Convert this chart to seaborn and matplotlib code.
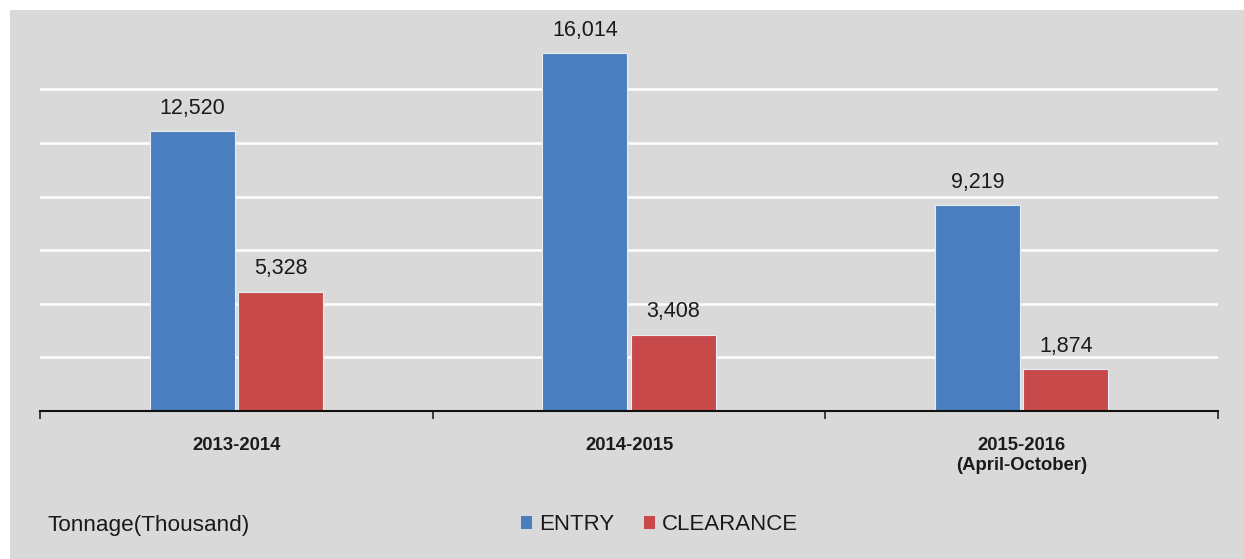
import matplotlib
matplotlib.use("Agg")
import matplotlib.pyplot as plt
from matplotlib.patches import Rectangle
import seaborn as sns
import pandas as pd

# Tonnage handled per period (thousand tonnes)
periods = ["2013-2014", "2014-2015", "2015-2016\n(April-October)"]
entry = [12520, 16014, 9219]
clearance = [5328, 3408, 1874]
series_names = ["ENTRY", "CLEARANCE"]
series_colors = ["#4a7ebf", "#c8494a"]
unit_label = "Tonnage(Thousand)"

df = pd.DataFrame({
    "Period": periods * 2,
    "Tonnage": entry + clearance,
    "Type": [series_names[0]] * len(periods) + [series_names[1]] * len(periods),
})

sns.set_style("white")
plt.rcParams["font.family"] = ["Liberation Sans", "DejaVu Sans"]

W, H = 1244, 559
fig = plt.figure(figsize=(W / 100, H / 100), dpi=100)
fig.patch.set_facecolor("white")
bg = "#d9d9d9"
fig.patches.append(Rectangle((10 / W, 0), 1, (H - 10) / H, transform=fig.transFigure,
                             facecolor=bg, edgecolor="none", zorder=-10))

ax = fig.add_axes([40 / W, (H - 411) / H, 1178 / W, 401 / H])
ax.set_facecolor("none")

sns.barplot(data=df, x="Period", y="Tonnage", hue="Type", order=periods,
            hue_order=series_names, palette=series_colors, width=0.45, gap=0.04,
            saturation=1, ax=ax, legend=False, zorder=3,
            edgecolor="#e4ecf4", linewidth=0.8)

for container in ax.containers:
    ax.bar_label(container, labels=[f"{v:,.0f}" for v in container.datavalues],
                 padding=9, fontsize=15.5, color="#1a1a1a")

ax.set_xlim(-0.5, len(periods) - 0.5)
ax.set_ylim(0, 17950)
ax.set_yticks(range(2400, 16800, 2400))
ax.set_yticklabels([])
ax.tick_params(axis="y", length=0)
ax.yaxis.grid(True, color="white", linewidth=1.8, zorder=0)
ax.xaxis.grid(False)
ax.set_axisbelow(True)

ax.set_xticks(range(len(periods)))
ax.set_xticklabels(periods, fontsize=13.3, fontweight="bold", color="#1a1a1a")
ax.tick_params(axis="x", which="major", length=0, pad=19)
ax.set_xticks([i - 0.5 for i in range(len(periods) + 1)], minor=True)
ax.tick_params(axis="x", which="minor", bottom=True, length=6, width=1.2,
               color="#222222", direction="out")
ax.set_xlabel("")
ax.set_ylabel("")

for side in ["top", "right", "left"]:
    ax.spines[side].set_visible(False)
ax.spines["bottom"].set_color("#111111")
ax.spines["bottom"].set_linewidth(1.5)
ax.spines["bottom"].set_zorder(5)

fig.text(47 / W, (H - 525) / H, unit_label, fontsize=16.2, color="#1a1a1a",
         ha="left", va="center")

handles = [Rectangle((0, 0), 1, 1, facecolor=c, edgecolor="none") for c in series_colors]
fig.legend(handles, series_names, loc="center left",
           bbox_to_anchor=(521 / W, (H - 525) / H), bbox_transform=fig.transFigure,
           ncol=2, frameon=False, fontsize=16, handlelength=0.5, handleheight=0.5,
           handletextpad=0.3, columnspacing=1.35, borderpad=0, borderaxespad=0,
           labelcolor="#1a1a1a")

fig.savefig("out.png", dpi=100, facecolor="white")
